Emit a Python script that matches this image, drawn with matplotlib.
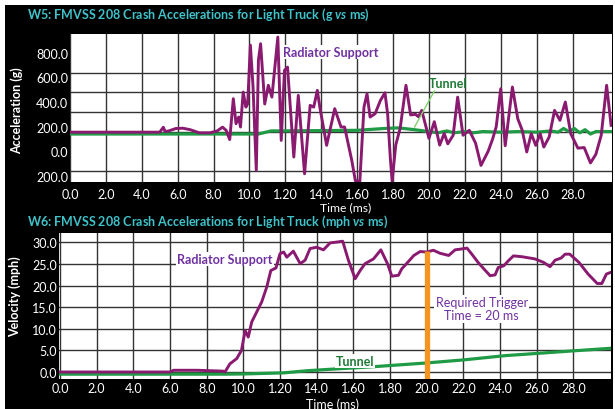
import matplotlib
matplotlib.use("Agg")
import matplotlib.pyplot as plt
from matplotlib.patches import Rectangle

plt.rcParams["font.family"] = ["Lato", "DejaVu Sans"]
plt.rcParams["mathtext.fontset"] = "custom"
plt.rcParams["mathtext.it"] = "Lato:italic:bold"

# ---- W5: acceleration (g) vs time (ms) ----
rad_acc_t = [0.0, 5.0, 5.2, 5.3, 5.5, 5.9, 6.3, 6.7, 7.2, 7.8, 8.2, 8.5, 8.7, 8.9,
             9.1, 9.25, 9.4, 9.5, 9.65, 9.8, 9.9, 10.05, 10.2, 10.38, 10.5, 10.62,
             10.85, 11.05, 11.25, 11.58, 11.77, 11.95, 12.12, 12.47, 12.72, 13.07,
             13.38, 13.58, 13.78, 13.92, 14.3, 14.75, 15.1, 15.3, 15.7, 15.9, 16.15,
             16.38, 16.55, 16.72, 17.0, 17.3, 17.55, 17.7, 17.85, 17.95, 18.15, 18.4,
             18.72, 18.98, 19.25, 19.42, 19.6, 20.0, 20.3, 20.6, 20.85, 21.05, 21.35,
             21.6, 21.9, 22.25, 22.6, 22.9, 23.3, 23.55, 23.75, 24.0, 24.25, 24.65,
             24.95, 25.2, 25.45, 25.7, 25.95, 26.2, 26.4, 26.7, 27.0, 27.3, 27.6,
             27.9, 28.3, 28.65, 29.0, 29.3, 29.6, 29.9, 30.15]
rad_acc_g = [155, 155, 195, 160, 165, 185, 187, 175, 150, 150, 165, 196, 170, 95,
             427, 224, 278, 197, 481, 359, 386, 863, 522, -155, 741, 874,
             384, 536, 440, 928, 88, 657, 684, -47, 454, -183,
             373, 359, 495, 359, 48, 346, 197, 197, -74, -240, -245,
             359, 467, 278, 305, 414, 475, 300, -60, -245, 50, 190,
             536, 295, 300, 280, 332, 105, 240, 50, 145, 60, 130,
             440, 130, 170, 65, -115, 0, 100, 200, 508, 45, 522,
             264, 170, -6, 143, 48, 143, 34, 116, 332, 251, 400,
             143, 25, 30, -95, -25, 130, 536, 210]

tun_acc_t = [0.0, 10.5, 11.2, 16.0, 17.5, 18.3, 19.2, 20.0, 20.5, 21.0, 21.4, 22.0,
             22.5, 23.0, 24.0, 25.0, 26.0, 26.8, 27.2, 27.5, 27.8, 28.1, 28.4, 28.7,
             29.0, 29.3, 30.2]
tun_acc_g = [140, 140, 165, 170, 185, 190, 175, 160, 150, 165, 150, 160,
             150, 160, 155, 160, 155, 165, 155, 185, 160, 185, 150, 175,
             140, 160, 160]

# ---- W6: velocity (mph) vs time (ms) ----
rad_vel_t = [0.0, 6.0, 6.2, 7.5, 8.9, 9.0, 9.27, 9.64, 9.9, 10.1, 10.27, 10.46, 10.73,
             11.0, 11.28, 11.5, 11.78, 12.0, 12.2, 12.37, 12.73, 13.1, 13.37, 13.64,
             14.0, 14.37, 14.73, 15.1, 15.42, 15.73, 16.1, 16.37, 16.64, 17.1, 17.5,
             17.86, 18.1, 18.46, 18.64, 18.9, 19.3, 19.64, 20.0, 20.37, 20.73, 21.2,
             21.55, 21.9, 22.2, 22.46, 22.8, 23.2, 23.46, 23.73, 23.9, 24.2, 24.46,
             24.73, 25.2, 25.9, 26.37, 26.73, 27.0, 27.33, 27.55, 27.8, 28.3, 28.8,
             29.3, 29.55, 29.8, 30.05]
rad_vel_mph = [0.0, 0.0, 0.4, 0.4, 0.2, 0.0, 1.9, 3.1, 5.0, 9.6, 8.1, 11.6, 13.9,
               16.2, 19.7, 23.5, 24.1, 27.4, 27.8, 26.6, 28.0, 25.1, 25.9, 28.6,
               28.9, 28.3, 29.9, 30.1, 30.3, 25.9, 21.6, 23.5, 25.1, 26.2, 28.3,
               25.1, 22.2, 22.4, 23.9, 25.1, 27.0, 27.9, 27.8, 28.2, 27.5, 27.0,
               28.3, 28.5, 28.7, 27.3, 25.4, 23.5, 22.3, 22.5, 24.2, 24.6, 25.8,
               26.9, 26.7, 26.2, 25.4, 24.4, 25.9, 26.4, 27.3, 27.3, 25.4, 22.7,
               20.5, 20.5, 22.7, 23.1]

tun_vel_t = [0.0, 9.0, 10.0, 12.2, 13.5, 15.0, 17.0, 20.0, 22.0, 24.3, 26.0, 28.0, 30.05]
tun_vel_mph = [-0.5, -0.5, -0.45, -0.2, 0.3, 0.7, 1.2, 2.1, 2.8, 3.8, 4.3, 4.9, 5.5]

trigger_ms = 20.0
trigger_top = 28.0

x_ticks = [0, 2, 4, 6, 8, 10, 12, 14, 16, 18, 20, 22, 24, 26, 28]
x_labels = ["0.0", "2.0", "4.0", "6.0", "8.0", "10.0", "1.20", "14.0", "1.60",
            "1.80", "20.0", "22.0", "24.0", "26.0", "28.0"]
acc_ticks = [800, 600, 400, 200, 0, -200]
acc_labels = ["800.0", "600.0", "400.0", "200.0", "0.0", "200.0"]
acc_grid = [-160, 0, 160, 320, 480, 640, 800]
vel_ticks = [0, 5, 10, 15, 20, 25, 30]
vel_labels = ["0.0", "5.0", "10.0", "15.0", "20.0", "25.0", "30.0"]

RAD = "#8a1a70"
TUN = "#1f9a45"
LBL_PURPLE = "#7030a0"
LBL_GREEN = "#1e7a34"
CYAN = "#3fc3cb"
FS = 9

fig = plt.figure(figsize=(6.15, 4.1), dpi=100)
fig.patch.set_facecolor("white")
fig.add_artist(Rectangle((5 / 615, 0), 608 / 615, 404 / 410, transform=fig.transFigure,
                         facecolor="black", edgecolor="none", zorder=-10))


def style(ax, xlim, pad_x):
    ax.set_facecolor("white")
    for s in ax.spines.values():
        s.set_visible(False)
    ax.set_xlim(*xlim)
    ax.set_xticks(x_ticks, x_labels)
    ax.tick_params(length=0, labelcolor="white", labelsize=FS)
    ax.tick_params(axis="x", pad=pad_x)
    ax.tick_params(axis="y", pad=1.5)
    ax.grid(axis="x", which="major", color="#333333", lw=1.0)
    ax.set_axisbelow(True)


# top panel
ax1 = fig.add_axes([70 / 615, 1 - 183 / 410, 542 / 615, 148 / 410])
style(ax1, (0, 30.2), 4.0)
ax1.set_ylim(-250, 953)
ax1.set_yticks(acc_ticks, acc_labels)
ax1.set_yticks(acc_grid, minor=True)
ax1.tick_params(which="minor", length=0)
ax1.grid(axis="y", which="minor", color="#333333", lw=1.0)
ax1.plot(tun_acc_t, tun_acc_g, color=TUN, lw=2.3, zorder=3)
ax1.plot(rad_acc_t, rad_acc_g, color=RAD, lw=2.1, zorder=4)
ax1.text(11.87, 806, "Radiator Support", color=LBL_PURPLE, fontweight="bold",
         fontsize=FS, ha="left", va="center", zorder=5,
         bbox=dict(facecolor="white", edgecolor="none", pad=1))
ax1.plot([20.3, 19.2], [489, 197], color="#7fd36b", lw=1, zorder=5)
ax1.text(21.06, 554, "Tunnel", color=LBL_GREEN, fontweight="bold", fontsize=FS,
         ha="center", va="center", zorder=5)

# bottom panel
ax2 = fig.add_axes([59 / 615, 1 - 380 / 410, 552 / 615, 146 / 410])
style(ax2, (-0.05, 30.05), 2.0)
ax2.set_ylim(-1.62, 32.2)
ax2.set_yticks(vel_ticks, vel_labels)
ax2.grid(axis="y", which="major", color="#333333", lw=1.0)
ax2.plot(tun_vel_t, tun_vel_mph, color=TUN, lw=2.3, zorder=3)
ax2.plot(rad_vel_t, rad_vel_mph, color=RAD, lw=2.1, zorder=4)
ax2.vlines(trigger_ms, -1.62, trigger_top, color="#f7941d", lw=3.8, zorder=5)
ax2.text(6.4, 26.2, "Radiator Support", color=LBL_PURPLE, fontweight="bold",
         fontsize=FS, ha="left", va="center", zorder=5,
         bbox=dict(facecolor="white", edgecolor="none", pad=1))
ax2.text(16.1, 2.5, "Tunnel", color=LBL_GREEN, fontweight="bold", fontsize=FS,
         ha="center", va="center", zorder=5,
         bbox=dict(facecolor="white", edgecolor="none", pad=0.5))
ax2.text(23.0, 14.6, "Required Trigger\nTime = 20 ms", color=LBL_PURPLE, fontsize=FS,
         ha="center", va="center", multialignment="center", linespacing=1.1, zorder=5,
         bbox=dict(facecolor="white", edgecolor="none", pad=1))

# titles and axis labels
fig.text(27 / 615, 1 - 15 / 410, r"W5: FMVSS 208 Crash Accelerations for Light Truck (g $\mathit{vs}$ ms)",
         color=CYAN, fontweight="bold", fontsize=FS, ha="left", va="center")
fig.text(27 / 615, 1 - 222 / 410, r"W6: FMVSS 208 Crash Accelerations for Light Truck (mph $\mathit{vs}$ ms)",
         color=CYAN, fontweight="bold", fontsize=FS, ha="left", va="center")
fig.text(346 / 615, 1 - 207.5 / 410, "Time (ms)", color="white", fontsize=8.7,
         ha="center", va="center")
fig.text(332 / 615, 1 - 405 / 410, "Time (ms)", color="white", fontsize=FS,
         ha="center", va="center")
fig.text(17 / 615, 1 - 111 / 410, "Acceleration (g)", color="white", fontweight="bold",
         fontsize=FS, rotation=90, ha="center", va="center")
fig.text(15 / 615, 1 - 297 / 410, "Velocity (mph)", color="white", fontweight="bold",
         fontsize=FS, rotation=90, ha="center", va="center")

fig.savefig("out.png", dpi=100, facecolor=fig.get_facecolor())
